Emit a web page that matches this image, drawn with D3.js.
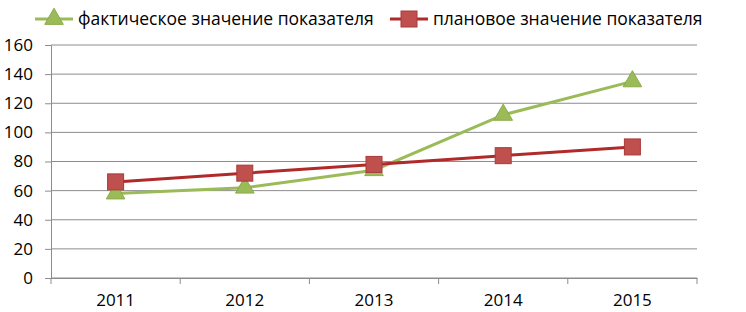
<!DOCTYPE html>
<html>
<head>
<meta charset="utf-8">
<script src="https://cdn.jsdelivr.net/npm/d3@7"></script>
<style>
  body { margin: 0; background: #fff; }
  text { font-family: "Open Sans", "Liberation Sans", sans-serif; fill: #000; }
</style>
</head>
<body>
<div id="chart"></div>
<script>
const years = ['2011', '2012', '2013', '2014', '2015'];
const actualValues = [58, 62, 74, 112, 135];
const planValues = [66, 72, 78, 84, 90];
const yTicks = [0, 20, 40, 60, 80, 100, 120, 140, 160];
const seriesNames = ['фактическое значение показателя', 'плановое значение показателя'];

const W = 746, H = 312;
const margin = { top: 45, right: 49, bottom: 34, left: 51 };
const width = W - margin.left - margin.right;
const height = H - margin.top - margin.bottom;

const svg = d3.select('#chart').append('svg')
  .attr('width', W)
  .attr('height', H);

const g = svg.append('g')
  .attr('transform', `translate(${margin.left},${margin.top})`);

const x = d3.scaleBand().domain(years).range([0, width]);
const y = d3.scaleLinear().domain([0, 160]).range([height, 0]);

// Gridlines
g.selectAll('.grid')
  .data(yTicks)
  .enter()
  .append('line')
  .attr('x1', 0)
  .attr('x2', width)
  .attr('y1', d => y(d))
  .attr('y2', d => y(d))
  .attr('stroke', '#8c8c8c')
  .attr('stroke-width', 1);

// Y axis
const yAxis = g.append('g')
  .call(d3.axisLeft(y).tickValues(yTicks).tickSize(6).tickPadding(12));
yAxis.select('.domain').attr('stroke', '#8c8c8c');
yAxis.selectAll('.tick line').attr('stroke', '#8c8c8c');
yAxis.selectAll('text').style('font-size', '17px').attr('fill', '#000');

// X axis
const xAxis = g.append('g')
  .attr('transform', `translate(0,${height})`)
  .call(d3.axisBottom(x).tickSize(0).tickPadding(16));
xAxis.select('.domain').attr('stroke', '#8c8c8c');
xAxis.selectAll('text').style('font-size', '17px').attr('fill', '#000');

// category boundary ticks
g.selectAll('.xtick')
  .data(d3.range(years.length + 1))
  .enter()
  .append('line')
  .attr('x1', i => i * x.bandwidth())
  .attr('x2', i => i * x.bandwidth())
  .attr('y1', height)
  .attr('y2', height + 6)
  .attr('stroke', '#8c8c8c');

const line = d3.line()
  .x((d, i) => x(years[i]) + x.bandwidth() / 2)
  .y(d => y(d));

// Actual series
g.append('path')
  .datum(actualValues)
  .attr('d', line)
  .attr('fill', 'none')
  .attr('stroke', '#9bbb59')
  .attr('stroke-width', 3);

// Plan series
g.append('path')
  .datum(planValues)
  .attr('d', line)
  .attr('fill', 'none')
  .attr('stroke', '#b02a2a')
  .attr('stroke-width', 3);

const tri = d3.symbol().type(d3.symbolTriangle).size(150);

g.selectAll('.tri')
  .data(actualValues)
  .enter()
  .append('path')
  .attr('d', tri)
  .attr('transform', (d, i) => `translate(${x(years[i]) + x.bandwidth() / 2},${y(d)})`)
  .attr('fill', '#9bbb59')
  .attr('stroke', '#8aab4a');

g.selectAll('.sq')
  .data(planValues)
  .enter()
  .append('rect')
  .attr('x', (d, i) => x(years[i]) + x.bandwidth() / 2 - 8)
  .attr('y', d => y(d) - 8)
  .attr('width', 16)
  .attr('height', 16)
  .attr('fill', '#c0504d')
  .attr('stroke', '#a83a37');

// Legend
const legend = svg.append('g');
const legendItems = [
  { name: seriesNames[0], x: 35, color: '#9bbb59', marker: 'tri' },
  { name: seriesNames[1], x: 390, color: '#b02a2a', marker: 'sq' }
];
legendItems.forEach(it => {
  const lg = legend.append('g').attr('transform', `translate(${it.x},19)`);
  lg.append('line')
    .attr('x1', 0).attr('x2', 38)
    .attr('stroke', it.color).attr('stroke-width', 3);
  if (it.marker === 'tri') {
    lg.append('path').attr('d', tri).attr('transform', 'translate(19,0)')
      .attr('fill', '#9bbb59').attr('stroke', '#8aab4a');
  } else {
    lg.append('rect').attr('x', 11).attr('y', -8).attr('width', 16).attr('height', 16)
      .attr('fill', '#c0504d').attr('stroke', '#a83a37');
  }
  lg.append('text')
    .attr('x', 43)
    .attr('y', 0)
    .attr('dy', '0.35em')
    .style('font-size', '17.5px')
    .text(it.name);
});
</script>
</body>
</html>
